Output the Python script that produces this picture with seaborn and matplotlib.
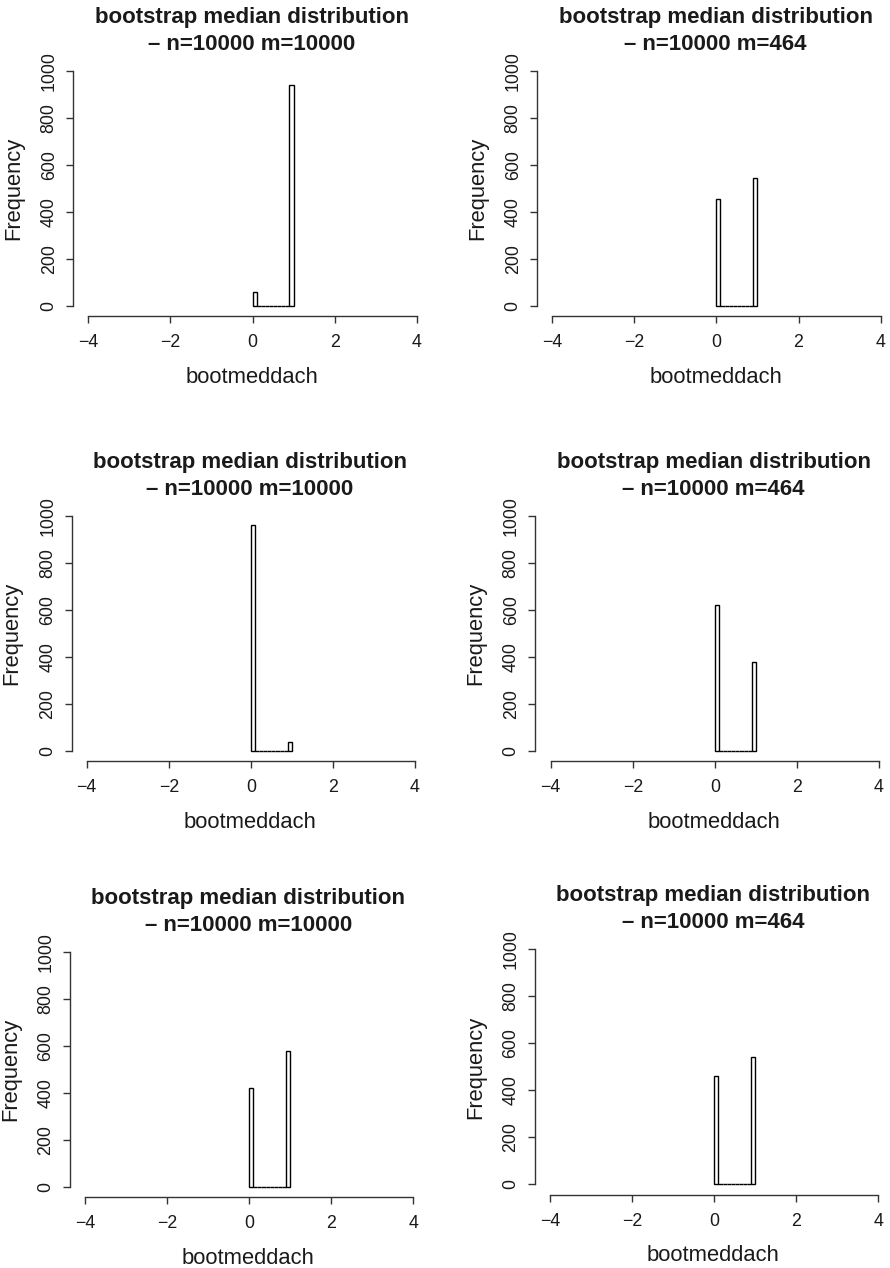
import matplotlib
matplotlib.use("Agg")
import matplotlib.pyplot as plt
import seaborn as sns
import numpy as np

# bootstrap medians only take the values 0 and 1
median_values = [0, 1]
bin_edges = [0.0, 0.1, 0.2, 0.3, 0.4, 0.5, 0.6, 0.7, 0.8, 0.9, 1.0]

counts_p1 = [60, 940]
counts_p2 = [457, 543]
counts_p3 = [960, 40]
counts_p4 = [623, 377]
counts_p5 = [420, 580]
counts_p6 = [458, 542]

titles = [
    "bootstrap median distribution\n\u2013 n=10000 m=10000",
    "bootstrap median distribution\n\u2013 n=10000 m=464",
] * 3
all_counts = [counts_p1, counts_p2, counts_p3, counts_p4, counts_p5, counts_p6]

x_ticks = [-4, -2, 0, 2, 4]
y_ticks = [0, 200, 400, 600, 800, 1000]

sns.set_theme(style="ticks")
plt.rcParams['font.family'] = ['Liberation Sans', 'DejaVu Sans']
plt.rcParams['text.color'] = '#1a1a1a'
plt.rcParams['axes.labelcolor'] = '#1a1a1a'
plt.rcParams['xtick.color'] = '#333333'
plt.rcParams['ytick.color'] = '#333333'
plt.rcParams['xtick.labelcolor'] = '#1a1a1a'
plt.rcParams['ytick.labelcolor'] = '#1a1a1a'

W, H = 890, 1268
fig = plt.figure(figsize=(W / 100, H / 100), dpi=100)

# pixel anchors per panel: y-axis x, x-axis y, x of -4, x of 4, y of 0, y of 1000
anchors = [
    (73.3, 316.0, 88.3, 416.7, 306.0, 71.0),
    (537.3, 316.0, 552.0, 880.7, 306.0, 71.0),
    (71.7, 761.0, 86.7, 415.0, 751.0, 516.0),
    (535.3, 761.0, 550.7, 879.0, 751.0, 516.0),
    (70.0, 1197.0, 85.0, 413.3, 1187.0, 952.0),
    (535.0, 1194.7, 550.3, 878.3, 1184.3, 948.7),
]

for counts, title, (ax_x, ax_y, xm4, x4, y0, y1000) in zip(all_counts, titles, anchors):
    ppu = (x4 - xm4) / 8
    ppy = (y0 - y1000) / 1000
    left = ax_x
    right = x4 + 0.32 * ppu
    bottom = ax_y
    top = y1000 - 40 * ppy
    ax = fig.add_axes([left / W, 1 - bottom / H, (right - left) / W, (bottom - top) / H])

    sns.histplot(x=median_values, weights=counts, bins=bin_edges, stat="count",
                 color="white", edgecolor="black", linewidth=1.0, alpha=1,
                 ax=ax)

    ax.set_xlim(-4 - (xm4 - ax_x) / ppu, 4.32)
    ax.set_ylim(-(ax_y - y0) / ppy, 1040)
    sns.despine(ax=ax)
    ax.spines['left'].set_bounds(0, 1000)
    ax.spines['bottom'].set_bounds(-4, 4)
    for s in ['left', 'bottom']:
        ax.spines[s].set_color('#333333')
        ax.spines[s].set_linewidth(1.0)

    ax.set_xticks(x_ticks)
    ax.set_yticks(y_ticks)
    ax.tick_params(axis='both', labelsize=12.8, length=5.2, width=1.0)
    ax.tick_params(axis='x', pad=8)
    ax.tick_params(axis='y', pad=6, labelrotation=90)
    for lab in ax.get_yticklabels():
        lab.set_va('center')

    ax.set_xlabel("bootmeddach", fontsize=15.8, labelpad=11)
    ax.set_ylabel("Frequency", fontsize=15.8, labelpad=12)
    ax.set_title(title, fontsize=16, fontweight='bold', pad=8, linespacing=1.4)

fig.savefig("out.png", dpi=100)
